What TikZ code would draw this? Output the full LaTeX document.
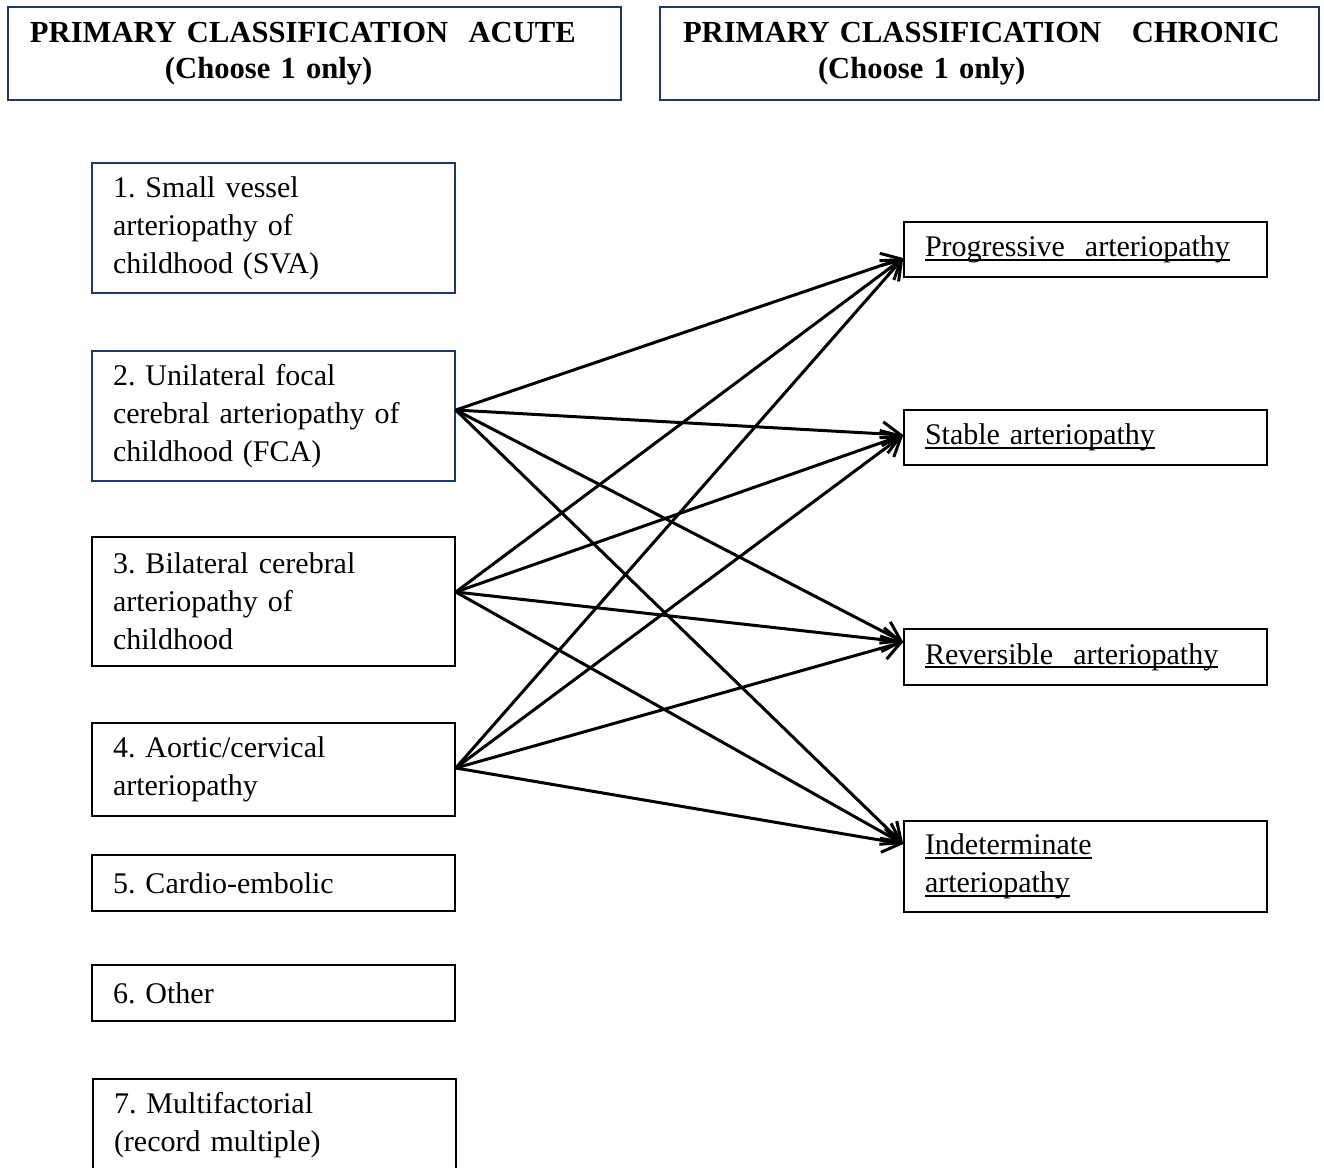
\documentclass[tikz,border=0pt]{standalone}
\usepackage{fontspec}
\setmainfont{Liberation Serif}
\newfontfamily\bodyfont[WordSpace=1.7]{Liberation Serif}
\usetikzlibrary{arrows.meta}
\definecolor{navy}{RGB}{31,56,110}
\newcommand\myul[1]{\leavevmode\hbox{\setbox0\hbox{#1}\rlap{\rule[-2pt]{\wd0}{0.9pt}}\box0}}
\tikzset{
  box/.style={draw=black, line width=0.75pt, rectangle, minimum width=181.5pt,
    inner xsep=10.5pt, inner ysep=0pt, text width=160.5pt, align=left,
    font=\bodyfont\frenchspacing\fontsize{15}{19}\selectfont},
  bluebox/.style={box, draw=navy},
  titlebox/.style={draw=navy, line width=0.75pt, rectangle, inner xsep=11pt, inner ysep=0pt,
    minimum height=46.5pt, align=left, font=\bfseries\fontsize{15.3}{18}\selectfont},
  link/.style={line width=1.5pt, -{Straight Barb[length=9pt,width=12pt,line width=1.5pt]}}
}
\begin{document}
\begin{tikzpicture}[x=0.5pt,y=-0.5pt]
\clip (0,0) rectangle (1324,1168);
% titles
\node[titlebox, text width=284.5pt] (tA) at (314.5,53.5)
  {PRIMARY CLASSIFICATION\ \ ACUTE\\\hspace*{67.5pt}(Choose 1 only)};
\node[titlebox, text width=306.5pt, inner xsep=11.5pt] (tC) at (989.5,53.5)
  {PRIMARY CLASSIFICATION\ \ \ CHRONIC\\\hspace*{67.5pt}(Choose 1 only)};
% acute boxes
\node[bluebox, minimum height=65pt] (a1) at (273.5,228) {1. Small vessel\\arteriopathy of\\childhood (SVA)};
\node[bluebox, minimum height=65pt] (a2) at (273.5,416) {2. Unilateral focal\\cerebral arteriopathy of\\childhood (FCA)};
\node[box, minimum height=64.5pt] (a3) at (273.5,601.5) {3. Bilateral cerebral\\arteriopathy of\\childhood};
\node[box, minimum height=46.5pt] (a4) at (273.5,769.5) {4. Aortic/cervical\\arteriopathy};
\node[box, minimum height=28pt] (a5) at (273.5,883) {5. Cardio-embolic};
\node[box, minimum height=28pt] (a6) at (273.5,993) {6. Other};
\node[box, minimum height=46pt] (a7) at (274.5,1125) {7. Multifactorial\\(record multiple)};
% chronic boxes
\node[box, minimum height=27.5pt] (cP) at (1085.5,249.5) {\myul{Progressive\ \ arteriopathy}};
\node[box, minimum height=27.5pt] (cS) at (1085.5,437.5) {\myul{Stable arteriopathy}};
\node[box, minimum height=28pt] (cR) at (1085.5,657) {\myul{Reversible\ \ arteriopathy}};
\node[box, minimum height=45.5pt] (cI) at (1085.5,866.5) {\myul{Indeterminate}\\\myul{arteriopathy}};
% anchor points
\coordinate (s2) at ([yshift=3pt]a2.east);
\coordinate (s3) at ([yshift=4.75pt]a3.east);
\coordinate (s4) at ([yshift=0.75pt]a4.east);
\coordinate (tP) at ([yshift=-4.25pt]cP.west);
\coordinate (tS) at ([yshift=1.25pt]cS.west);
\coordinate (tR) at ([yshift=7.5pt]cR.west);
\coordinate (tI) at ([yshift=11.25pt]cI.west);
% connectors
\foreach \s in {s2,s3,s4}{
  \foreach \t in {tP,tS,tR,tI}{
    \draw[link] (\s) -- (\t);
  }
}
\end{tikzpicture}
\end{document}
